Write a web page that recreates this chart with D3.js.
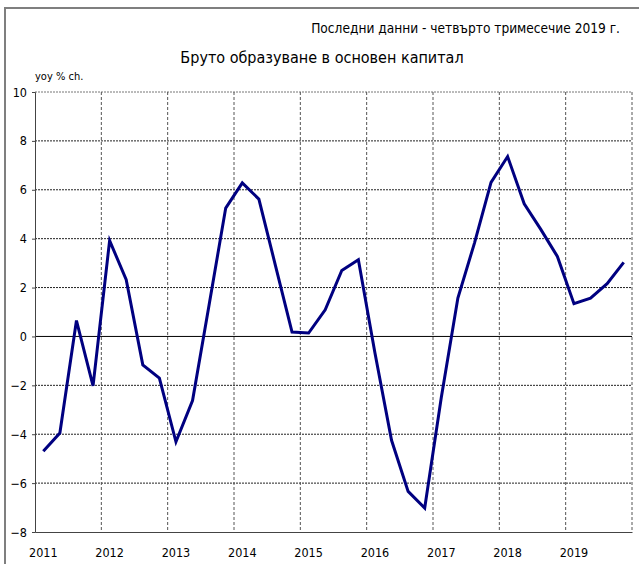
<!DOCTYPE html>
<html lang="bg">
<head>
<meta charset="utf-8">
<title>Бруто образуване в основен капитал</title>
<script src="https://cdn.jsdelivr.net/npm/d3@7"></script>
<style>
  body { margin: 0; background: #fff; }
  svg text { font-family: "Liberation Sans Narrow", "DejaVu Sans Condensed", sans-serif; fill: #000; }
</style>
</head>
<body>
<div id="chart"></div>
<script>
// данни по тримесечия, 2011 Q1 - 2019 Q4
const years = [2011, 2012, 2013, 2014, 2015, 2016, 2017, 2018, 2019];
const quarters = years.flatMap(y => [1, 2, 3, 4].map(q => y + "Q" + q));
const values = [
  -4.70, -3.95, 0.65, -2.02,
  3.92, 2.32, -1.16, -1.70,
  -4.31, -2.62, 1.30, 5.25,
  6.28, 5.62, 2.90, 0.18,
  0.14, 1.09, 2.70, 3.14,
  -0.68, -4.25, -6.34, -7.02,
  -2.50, 1.57, 3.82, 6.30,
  7.36, 5.43, 4.38, 3.27,
  1.34, 1.57, 2.16, 3.03
];
const yTicks = [-8, -6, -4, -2, 0, 2, 4, 6, 8, 10];

const width = 639, height = 564;
const margin = {top: 92, right: 7, bottom: 32, left: 35};

const x = d3.scaleBand()
    .domain(quarters)
    .range([margin.left, width - margin.right]);

const y = d3.scaleLinear()
    .domain([-8, 10])
    .range([height - margin.bottom, margin.top]);

const svg = d3.select("#chart").append("svg")
    .attr("width", width)
    .attr("height", height);

// рамка
svg.append("rect")
    .attr("x", 5).attr("y", 8)
    .attr("width", 700).attr("height", 600)
    .attr("fill", "none")
    .attr("stroke", "#7f7f7f")
    .attr("stroke-width", 2);

// заглавия
svg.append("text")
    .attr("x", 620).attr("y", 33)
    .attr("text-anchor", "end")
    .attr("font-size", 13.6)
    .text("Последни данни - четвърто тримесечие 2019 г.");

svg.append("text")
    .attr("x", 322).attr("y", 63)
    .attr("text-anchor", "middle")
    .attr("font-size", 16)
    .text("Бруто образуване в основен капитал");

svg.append("text")
    .attr("x", 35).attr("y", 80)
    .attr("font-size", 11)
    .text("yoy % ch.");

// хоризонтална мрежа
svg.append("g")
  .selectAll("line")
  .data(yTicks.filter(d => d !== -8 && d !== 0))
  .join("line")
    .attr("x1", margin.left).attr("x2", width - margin.right)
    .attr("y1", d => y(d)).attr("y2", d => y(d))
    .attr("stroke", d => d === 10 ? "#777" : "#222")
    .attr("stroke-dasharray", "2,1");

// вертикална мрежа - граници между годините
const yearEdges = years.slice(1).map(yr => x(yr + "Q1")).concat([x.range()[1]]);
svg.append("g")
  .selectAll("line")
  .data(yearEdges)
  .join("line")
    .attr("x1", d => d).attr("x2", d => d)
    .attr("y1", y(10)).attr("y2", y(-8))
    .attr("stroke", "#555")
    .attr("stroke-dasharray", "3,2");

// нулева линия
svg.append("line")
    .attr("x1", margin.left).attr("x2", width - margin.right)
    .attr("y1", y(0)).attr("y2", y(0))
    .attr("stroke", "#000");

// ос Y
svg.append("g")
    .attr("transform", `translate(${margin.left},0)`)
    .call(d3.axisLeft(y).tickValues(yTicks).tickSize(3).tickPadding(5))
    .call(g => g.selectAll("text").attr("font-size", 12.5))
    .call(g => g.selectAll("path, line").attr("stroke", "#444"));

// ос X
svg.append("g")
    .attr("transform", `translate(0,${height - margin.bottom})`)
    .call(d3.axisBottom(x)
        .tickValues(years.map(yr => yr + "Q1"))
        .tickFormat(d => d.slice(0, 4))
        .tickSize(0).tickPadding(16).tickSizeOuter(0))
    .call(g => g.selectAll("text").attr("font-size", 12.5))
    .call(g => g.select(".domain").attr("stroke", "#444"));

// линия
const line = d3.line()
    .x((d, i) => x(quarters[i]) + x.bandwidth() / 2)
    .y(d => y(d));

svg.append("path")
    .datum(values)
    .attr("fill", "none")
    .attr("stroke", "#000080")
    .attr("stroke-width", 3)
    .attr("stroke-linejoin", "miter")
    .attr("d", line);
</script>
</body>
</html>
